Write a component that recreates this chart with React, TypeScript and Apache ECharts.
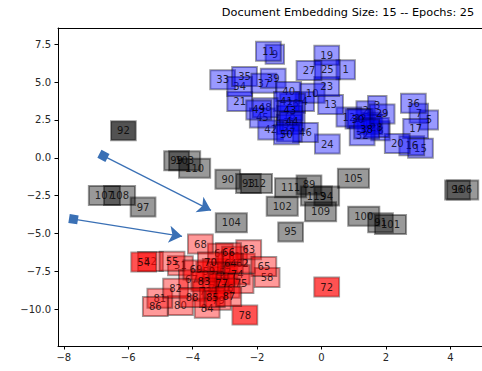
import React, { useEffect, useRef } from "react";
import * as echarts from "echarts";

// Document embeddings projected to 2-D: [document id, x, y]
const blueDocs: [number, number, number][] = [
  [1, 0.75, 5.82], [2, 1.37, 3.1], [3, 1.73, 3.45], [4, -0.52, 3.72], [5, 3.33, 2.5],
  [6, 1.55, 2.35], [7, 3.02, 2.94], [8, 1.83, 1.79], [9, -1.45, 6.83], [10, -0.29, 4.27],
  [11, -1.65, 7.03], [12, 0.85, 2.69], [13, 0.28, 3.52], [14, 1.5, 2.2], [15, 3.07, 0.64],
  [16, 2.8, 0.8], [17, 2.92, 1.94], [18, -1.0, 2.8], [19, 0.16, 6.77], [20, 2.35, 0.95],
  [21, -2.54, 3.72], [22, 1.2, 2.6], [23, 0.16, 4.71], [24, 0.18, 0.91], [25, 0.18, 5.82],
  [26, -0.9, 3.6], [27, -0.39, 5.77], [28, 1.7, 2.0], [29, 1.88, 2.9], [30, 1.13, 2.56],
  [31, -1.0, 2.2], [32, 1.26, 1.46], [33, -3.07, 5.16], [34, -2.54, 4.71], [35, -2.39, 5.37],
  [36, 2.85, 3.6], [37, -1.79, 4.93], [38, 1.4, 1.9], [39, -1.5, 5.26], [40, -1.02, 4.38],
  [41, -1.09, 3.72], [42, -1.58, 1.84], [43, -0.98, 3.12], [44, -0.91, 2.41], [45, -1.84, 2.63],
  [46, -0.5, 1.68], [47, -1.0, 1.7], [48, -1.75, 3.3], [49, -1.95, 3.16], [50, -1.09, 1.53],
];

const redDocs: [number, number, number][] = [
  [51, -4.38, -7.12], [52, -5.31, -6.84], [53, -3.3, -7.3], [54, -5.52, -6.88], [55, -4.64, -6.83],
  [56, -3.08, -7.83], [57, -3.0, -7.6], [58, -1.69, -7.9], [59, -3.5, -7.5], [60, -3.14, -6.29],
  [61, -2.7, -6.5], [62, -2.46, -6.95], [63, -2.26, -6.06], [64, -2.83, -6.95], [65, -1.79, -7.17],
  [66, -2.89, -6.27], [67, -4.04, -8.05], [68, -3.76, -5.69], [69, -3.9, -7.4], [70, -3.45, -6.88],
  [71, -3.3, -8.6], [72, 0.16, -8.53], [73, -3.6, -8.8], [74, -2.62, -7.72], [75, -2.5, -8.3],
  [76, -2.93, -8.61], [77, -3.1, -8.3], [78, -2.38, -10.38], [79, -3.2, -9.4], [80, -4.38, -9.75],
  [81, -5.02, -9.27], [82, -4.53, -8.61], [83, -3.65, -8.16], [84, -3.55, -9.93], [85, -3.39, -9.22],
  [86, -5.16, -9.82], [87, -2.88, -9.16], [88, -4.02, -9.22],
];

const grayDocs: [number, number, number][] = [
  [89, -0.39, -1.79], [90, -2.91, -1.41], [91, 1.83, -4.29], [92, -6.15, 1.79], [93, -2.27, -1.69],
  [94, 0.16, -2.52], [95, -0.96, -4.89], [96, 4.22, -2.12], [97, -5.54, -3.25], [99, -4.5, -0.2],
  [100, 1.31, -3.85], [101, 2.14, -4.4], [102, -1.22, -3.19], [103, -4.25, -0.2], [104, -2.8, -4.29],
  [105, 0.99, -1.35], [106, 4.38, -2.12], [107, -6.74, -2.48], [108, -6.27, -2.48], [109, -0.03, -3.56],
  [110, -3.94, -0.68], [111, -0.96, -1.97], [112, -2.02, -1.69], [113, -0.16, -2.52],
];

// Documents whose boxes are drawn more opaque
const strongIds = [54, 72, 78, 92];

// Arrows: [fromX, fromY, toX, toY]
const arrows: [number, number, number, number][] = [
  [-6.77, 0.13, -3.43, -3.47],
  [-7.7, -4.05, -4.33, -5.18],
];

const xTicks = [-8, -6, -4, -2, 0, 2, 4];
const yTicks = [-10, -7.5, -5, -2.5, 0, 2.5, 5, 7.5];

const titleText = "Document Embedding Size: 15 -- Epochs: 25";

const FONT = "DejaVu Sans";
const minus = (s: string) => s.replace("-", "\u2212");

function labelSeries(name: string, docs: [number, number, number][], rgb: string) {
  return {
    type: "scatter",
    name,
    silent: true,
    symbol: "rect",
    symbolSize: 1,
    itemStyle: { color: "rgba(0,0,0,0)" },
    data: docs.map(([id, x, y]) => ({
      value: [x, y],
      name: String(id),
      label: strongIds.includes(id) ? { backgroundColor: `rgba(${rgb},0.85)` } : undefined,
    })),
    label: {
      show: true,
      position: "inside",
      formatter: "{b}",
      color: "#000",
      fontSize: 10,
      fontFamily: FONT,
      backgroundColor: `rgba(${rgb},0.5)`,
      borderColor: "rgba(0,0,0,0.5)",
      borderWidth: 1,
      padding: [5, 6, 4, 6],
    },
    z: 2,
  };
}

export default function App() {
  const ref = useRef<HTMLDivElement>(null);

  useEffect(() => {
    if (!ref.current) return;
    const chart = echarts.init(ref.current, null, { renderer: "svg" });
    const xMin = -8.18;
    const xMax = 4.98;
    const axisText = { color: "#262626", fontSize: 10, fontFamily: FONT };
    chart.setOption({
      animation: false,
      backgroundColor: "#fff",
      grid: { left: 58, right: 0, top: 28, bottom: 25, containLabel: false },
      graphic: [
        {
          type: "text",
          x: 348,
          y: 12,
          style: {
            text: titleText,
            fill: "#000",
            font: `11.3px "${FONT}"`,
            textAlign: "center",
            textVerticalAlign: "middle",
          },
        },
      ],
      xAxis: [
        {
          type: "value",
          min: xMin,
          max: xMax,
          position: "bottom",
          axisLine: { show: true, onZero: false, lineStyle: { color: "#000", width: 1 } },
          axisTick: { show: true, length: 3.5, customValues: xTicks, lineStyle: { color: "#000" } },
          axisLabel: {
            ...axisText,
            customValues: xTicks,
            margin: 6,
            formatter: (v: number) => minus(String(v)),
          },
          splitLine: { show: false },
        },
        {
          type: "value",
          min: xMin,
          max: xMax,
          position: "top",
          axisLine: { show: true, onZero: false, lineStyle: { color: "#000", width: 1 } },
          axisTick: { show: false },
          axisLabel: { show: false },
          splitLine: { show: false },
        },
      ],
      yAxis: {
        type: "value",
        min: -12.42,
        max: 8.57,
        axisLine: { show: true, onZero: false, lineStyle: { color: "#000", width: 1 } },
        axisTick: { show: true, length: 3.5, customValues: yTicks, lineStyle: { color: "#000" } },
        axisLabel: {
          ...axisText,
          customValues: yTicks,
          margin: 7,
          formatter: (v: number) => minus(v.toFixed(1)),
        },
        splitLine: { show: false },
      },
      series: [
        labelSeries("topic A", blueDocs, "0,0,255"),
        labelSeries("topic B", redDocs, "255,0,0"),
        labelSeries("topic C", grayDocs, "0,0,0"),
        {
          type: "lines",
          coordinateSystem: "cartesian2d",
          silent: true,
          symbol: ["rect", "arrow"],
          symbolSize: [9, 13],
          lineStyle: { color: "#3a70b5", width: 1.2, opacity: 1, curveness: 0 },
          data: arrows.map(([x1, y1, x2, y2]) => ({ coords: [[x1, y1], [x2, y2]] })),
          z: 3,
        },
      ],
    });
    return () => chart.dispose();
  }, []);

  return (
    <div
      ref={ref}
      style={{ position: "fixed", left: 0, top: 0, width: 482, height: 371, background: "#fff" }}
    />
  );
}
